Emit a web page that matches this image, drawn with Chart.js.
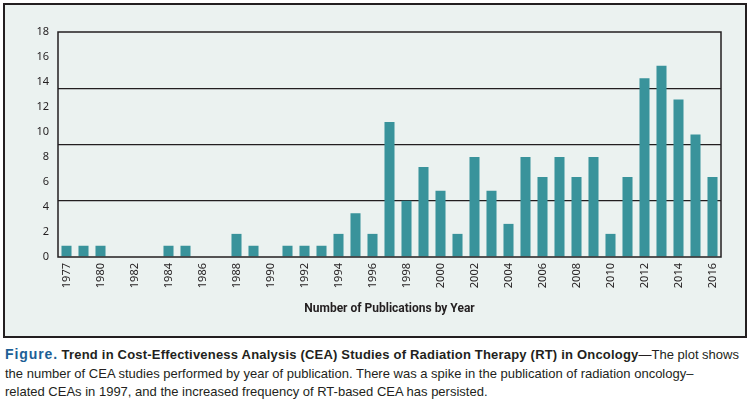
<!DOCTYPE html>
<html>
<head>
<meta charset="utf-8">
<script src="https://cdn.jsdelivr.net/npm/chart.js@4"></script>
<style>
  html, body { margin: 0; padding: 0; background: #fff; }
  body { width: 751px; height: 411px; position: relative; overflow: hidden; }
  #box {
    position: absolute; left: 3px; top: 3px; width: 744px; height: 335px;
    box-sizing: border-box; border: 2px solid #231f20; background: #ebf2f0;
  }
  #box canvas { position: absolute; left: 0; top: 0; }
  #caption {
    position: absolute; left: 5px; top: 345px; width: 746px;
    font: 13px 'Liberation Sans', Arial, sans-serif; line-height: 18.5px;
    color: #231f20; white-space: nowrap;
  }
  #caption .fig { color: #1d5f96; font-weight: bold; font-size: 14px; letter-spacing: 0.9px; }
  #caption b { font-weight: bold; letter-spacing: 0.2px; }
</style>
</head>
<body>
<div id="box"><canvas id="chart" width="740" height="331"></canvas></div>
<div id="caption"><span class="fig">Figure.</span> <b>Trend in Cost-Effectiveness Analysis (CEA) Studies of Radiation Therapy (RT) in Oncology</b>—The plot shows<br>the number of CEA studies performed by year of publication. There was a spike in the publication of radiation oncology–<br>related CEAs in 1997, and the increased frequency of RT-based CEA has persisted.</div>
<script>
/* ── Data ───────────────────────────────────────────────── */
const years = ['1977', '1979', '1980', '1981', '1982', '1983', '1984', '1985', '1986', '1987',
               '1988', '1989', '1990', '1991', '1992', '1993', '1994', '1995', '1996', '1997',
               '1998', '1999', '2000', '2001', '2002', '2003', '2004', '2005', '2006', '2007',
               '2008', '2009', '2010', '2011', '2012', '2013', '2014', '2015', '2016'];

const publications = [0.9, 0.9, 0.9, 0, 0, 0, 0.9, 0.9, 0, 0,
                      1.85, 0.9, 0, 0.9, 0.9, 0.9, 1.85, 3.5, 1.85, 10.8,
                      4.5, 7.2, 5.3, 1.85, 8.0, 5.3, 2.65, 8.0, 6.4, 8.0,
                      6.4, 8.0, 1.85, 6.4, 14.3, 15.3, 12.6, 9.8, 6.4];

const yLabelTicks = [0, 2, 4, 6, 8, 10, 12, 14, 16, 18];
const gridValues  = [4.5, 9, 13.5];

const INK = '#231f20';

/* ── Frame round the plot area ─────────────────────────── */
const plotFrame = {
  id: 'plotFrame',
  afterDatasetsDraw(chart) {
    const { ctx, chartArea: a } = chart;
    ctx.save();
    ctx.strokeStyle = INK;
    ctx.lineWidth = 1.5;
    ctx.strokeRect(a.left, a.top, a.right - a.left, a.bottom - a.top);
    ctx.restore();
  },
};

new Chart(document.getElementById('chart'), {
  type: 'bar',
  data: {
    labels: years,
    datasets: [{
      data: publications,
      backgroundColor: '#39939b',
      borderWidth: 0,
      barPercentage: 0.59,
      categoryPercentage: 1,
    }],
  },
  options: {
    responsive: false,
    animation: false,
    devicePixelRatio: 1,
    layout: { padding: { top: 27, right: 24, left: 0, bottom: 0 } },
    plugins: { legend: { display: false }, tooltip: { enabled: false } },
    scales: {
      x: {
        grid: { display: false, drawTicks: false },
        border: { display: false },
        afterFit(scale) { scale.height = 79; },
        ticks: {
          autoSkip: false,
          minRotation: 90,
          maxRotation: 90,
          padding: 6,
          color: INK,
          font: { family: "'Noto Sans', sans-serif", size: 11 },
          callback(val, i) {
            const y = Number(years[i]);
            return (i === 0 || y % 2 === 0) ? years[i] : '';
          },
        },
        title: {
          display: true,
          text: 'Number of Publications by Year',
          color: INK,
          font: { family: "Roboto, sans-serif", size: 12, weight: 'bold' },
          padding: { top: 0, bottom: 20 },
        },
      },
      y: {
        min: 0,
        max: 18,
        afterFit(scale) { scale.width = 53; },
        afterBuildTicks(scale) {
          scale.ticks = [...yLabelTicks, ...gridValues]
            .sort((a, b) => a - b)
            .map(v => ({ value: v }));
        },
        grid: {
          drawTicks: false,
          lineWidth: 1.2,
          color(ctx) {
            return gridValues.includes(ctx.tick.value) ? INK : 'rgba(0,0,0,0)';
          },
        },
        border: { display: false },
        ticks: {
          padding: 9,
          color: INK,
          font: { family: "'Noto Sans', sans-serif", size: 11 },
          callback(val) {
            return yLabelTicks.includes(val) ? String(val) : '';
          },
        },
      },
    },
  },
  plugins: [plotFrame],
});
</script>
</body>
</html>
